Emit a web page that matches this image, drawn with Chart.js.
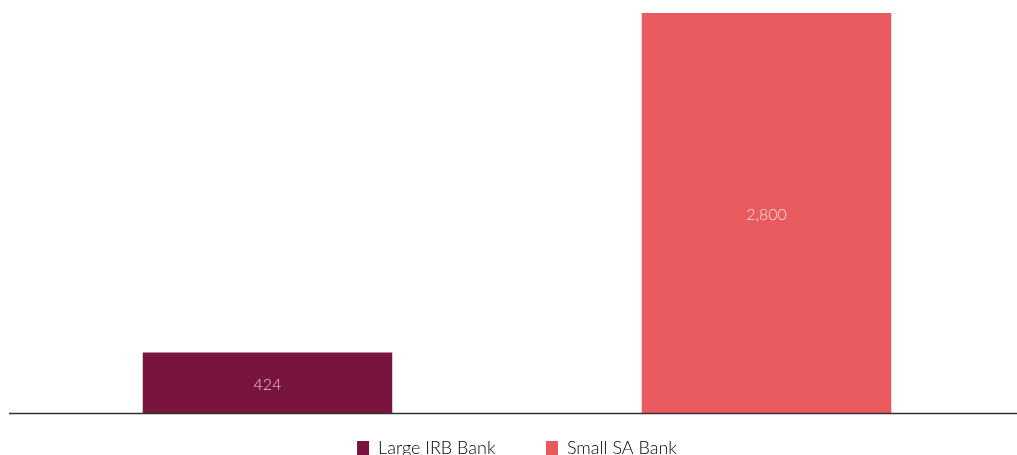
<!DOCTYPE html>
<html>
<head>
<meta charset="utf-8">
<script src="https://cdn.jsdelivr.net/npm/chart.js@4"></script>
<style>
  html, body { margin: 0; padding: 0; background: #fff; overflow: hidden; }
  #wrap { width: 1017px; height: 467px; }
</style>
</head>
<body>
<div id="wrap"><canvas id="bankChart"></canvas></div>
<script>
const categories = ["Large IRB Bank", "Small SA Bank"];
const values = [424, 2800];
const colors = ["rgb(120, 20, 62)", "rgb(233, 90, 95)"];
const labelColors = ["rgb(232, 200, 214)", "rgb(255, 226, 228)"];

// value labels in the middle of each bar
const barLabels = {
  id: "barLabels",
  afterDatasetsDraw(chart) {
    const ctx = chart.ctx;
    const meta = chart.getDatasetMeta(0);
    ctx.save();
    ctx.font = "300 16px Lato, 'Open Sans', sans-serif";
    ctx.textAlign = "center";
    ctx.textBaseline = "middle";
    meta.data.forEach((bar, i) => {
      ctx.fillStyle = labelColors[i];
      ctx.fillText(values[i].toLocaleString("en-US"), bar.x, (bar.y + bar.base) / 2 + 2);
    });
    ctx.restore();
  },
};

// baseline runs a bit past the plot area on the left
const baseline = {
  id: "baseline",
  afterDatasetsDraw(chart) {
    const ctx = chart.ctx;
    const y = Math.round(chart.scales.y.getPixelForValue(0)) + 0.5;
    ctx.save();
    ctx.strokeStyle = "#333";
    ctx.lineWidth = 1.3;
    ctx.beginPath();
    ctx.moveTo(9, y);
    ctx.lineTo(chart.width, y);
    ctx.stroke();
    ctx.restore();
  },
};

new Chart(document.getElementById("bankChart").getContext("2d"), {
  type: "bar",
  data: {
    labels: categories,
    datasets: [
      {
        data: values,
        backgroundColor: colors,
        barPercentage: 1,
        categoryPercentage: 0.5,
      },
    ],
  },
  options: {
    responsive: true,
    maintainAspectRatio: false,
    animation: false,
    layout: { padding: { top: 13, left: 18, right: 1 } },
    scales: {
      x: { display: false },
      y: { display: false, min: 0, max: 2800 },
    },
    plugins: {
      tooltip: { enabled: false },
      legend: {
        position: "bottom",
        labels: {
          boxWidth: 12,
          boxHeight: 14,
          padding: 26,
          color: "#666",
          font: { family: "Lato, 'Open Sans', sans-serif", size: 18, weight: 300 },
          generateLabels: () =>
            categories.map((c, i) => ({
              text: i === 0 ? c + "     " : c,
              fillStyle: colors[i],
              strokeStyle: colors[i],
              lineWidth: 0,
              index: i,
            })),
        },
      },
    },
  },
  plugins: [barLabels, baseline],
});
</script>
</body>
</html>
